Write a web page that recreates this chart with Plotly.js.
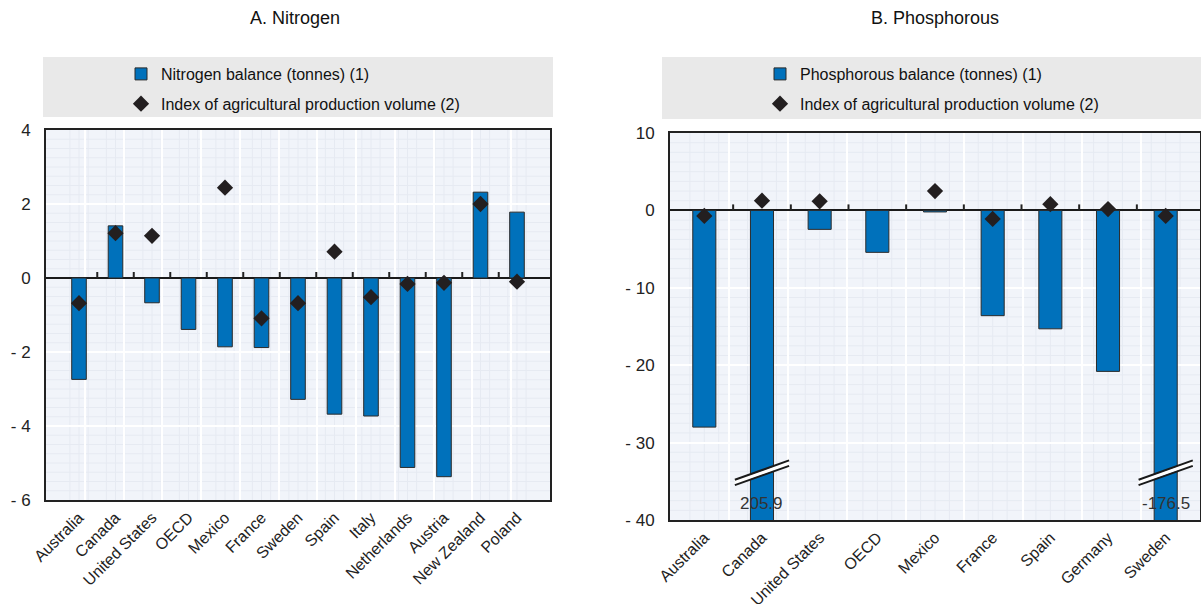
<!DOCTYPE html>
<html>
<head>
<meta charset="utf-8">
<script src="https://cdn.plot.ly/plotly-3.0.1.min.js"></script>
<style>html,body{margin:0;padding:0;background:#fff;}#chart{width:1201px;height:604px;}</style>
</head>
<body>
<div id="chart"></div>
<script>
// ---- Data ----
const nitroCategories = ["Australia","Canada","United States","OECD","Mexico","France","Sweden","Spain","Italy","Netherlands","Austria","New Zealand","Poland"];
const nitroBalance = [-2.74, 1.41, -0.67, -1.39, -1.86, -1.88, -3.28, -3.68, -3.73, -5.12, -5.37, 2.32, 1.78];
const nitroIndex = [-0.68, 1.21, 1.14, null, 2.44, -1.09, -0.68, 0.71, -0.52, -0.16, -0.13, 2.0, -0.1];

const phosCategories = ["Australia","Canada","United States","OECD","Mexico","France","Spain","Germany","Sweden"];
const phosBalance = [-28.0, -205.9, -2.45, -5.42, -0.2, -13.6, -15.3, -20.8, -176.5];
const phosIndex = [-0.72, 1.25, 1.17, null, 2.5, -1.1, 0.8, 0.18, -0.72];

const nitroTickVals = [4, 2, 0, -2, -4, -6];
const nitroTickText = ["4", "2", "0", "- 2", "- 4", "- 6"];
const phosTickVals = [10, 0, -10, -20, -30, -40];
const phosTickText = ["10", "0", "- 10", "- 20", "- 30", "- 40"];

const titles = ["A. Nitrogen", "B. Phosphorous"];
const seriesNames = {
  nitro: "Nitrogen balance (tonnes) (1)",
  phos: "Phosphorous balance (tonnes) (1)",
  index: "Index of agricultural production volume (2)"
};

// ---- Style ----
const FONT = "'Liberation Sans', Arial, sans-serif";
const BAR = "#0071bb";
const DARK = "#231f20";
const BG = "#f1f4fa";
const MINOR = "#e6eaf2";
const LEGBG = "#e9e9e9";

const nitroRange = [-6, 4];
const phosRange = [-40, 10];

function barTrace(cats, vals, name, xa, ya, leg, grp) {
  return {type: "bar", x: cats, y: vals, name: name, xaxis: xa, yaxis: ya, legend: leg, legendgroup: grp,
    width: 0.4, marker: {color: BAR, line: {color: "#2b2b2b", width: 1}}, cliponaxis: true};
}
function idxTrace(cats, vals, xa, ya, leg, grp) {
  return {type: "scatter", mode: "markers", x: cats, y: vals, name: seriesNames.index,
    xaxis: xa, yaxis: ya, legend: leg, legendgroup: grp,
    marker: {symbol: "diamond", size: 12.5, color: DARK}, cliponaxis: false};
}
function dummy(xa, ya) {
  return {type: "scatter", x: [], y: [], xaxis: xa, yaxis: ya, showlegend: false, hoverinfo: "skip"};
}

const traces = [
  barTrace(nitroCategories, nitroBalance, seriesNames.nitro, "x", "y", "legend", "a1"),
  idxTrace(nitroCategories, nitroIndex, "x", "y", "legend", "a2"),
  dummy("x2", "y"),
  barTrace(phosCategories, phosBalance, seriesNames.phos, "x3", "y3", "legend2", "b1"),
  idxTrace(phosCategories, phosIndex, "x3", "y3", "legend2", "b2"),
  dummy("x4", "y3")
];

const domL = [46/1201, 550/1201];
const domR = [670/1201, 1200/1201];
const domLy = [1 - 500/604, 1 - 130/604];
const domRy = [1 - 520/604, 1 - 133/604];

function catAxis(dom, anchor) {
  return {domain: dom, anchor: anchor, type: "category", showgrid: false, zeroline: false,
    ticks: "", tickangle: -45, tickfont: {family: FONT, size: 16, color: "#222"},
    showline: true, linecolor: "#222", linewidth: 2, mirror: true, fixedrange: true};
}
function gridAxis(n, overlay, anchor) {
  return {overlaying: overlay, anchor: anchor, type: "linear", range: [-0.5, n - 0.5],
    tick0: -0.5, dtick: 1, showticklabels: false, ticks: "", zeroline: false,
    showgrid: true, gridcolor: "#ffffff", gridwidth: 2};
}
function valAxis(dom, anchor, range, tv, tt) {
  return {domain: dom, anchor: anchor, range: range, tickmode: "array", tickvals: tv, ticktext: tt,
    tickfont: {family: FONT, size: 17, color: "#222"}, ticks: "", ticklabelstandoff: 10,
    showgrid: true, gridcolor: "#ffffff", gridwidth: 2,
    zeroline: true, zerolinecolor: "#1a1a1a", zerolinewidth: 2,
    showline: true, linecolor: "#222", linewidth: 2, mirror: true, fixedrange: true};
}

const shapes = [];
// legend backgrounds
shapes.push({type: "rect", xref: "paper", yref: "paper", x0: 43/1201, x1: 553/1201, y0: 1 - 117/604, y1: 1 - 57/604,
  fillcolor: LEGBG, line: {width: 0}, layer: "below"});
shapes.push({type: "rect", xref: "paper", yref: "paper", x0: 662/1201, x1: 1201/1201, y0: 1 - 119/604, y1: 1 - 57/604,
  fillcolor: LEGBG, line: {width: 0}, layer: "below"});

// fine background grid (below the white major grid)
function minorGrid(n, xa, ya, range, majorStep, minorStep) {
  for (let j = 1; j < n * 4; j++) {
    if (j % 4 === 0) continue;
    const xv = -0.5 + j * 0.25;
    shapes.push({type: "line", xref: xa, yref: ya + " domain", x0: xv, x1: xv, y0: 0, y1: 1,
      line: {color: MINOR, width: 1}, layer: "below"});
  }
  const steps = Math.round((range[1] - range[0]) / minorStep);
  const per = Math.round(majorStep / minorStep);
  for (let j = 1; j < steps; j++) {
    if (j % per === 0) continue;
    const yv = range[0] + j * minorStep;
    shapes.push({type: "line", xref: xa + " domain", yref: ya, x0: 0, x1: 1, y0: yv, y1: yv,
      line: {color: MINOR, width: 1}, layer: "below"});
  }
}
minorGrid(nitroCategories.length, "x", "y", nitroRange, 2, 0.25);
minorGrid(phosCategories.length, "x3", "y3", phosRange, 10, 1.25);

// tick marks on the zero line at category boundaries
function zeroTicks(n, xa, ya) {
  for (let i = 0; i < n - 1; i++) {
    shapes.push({type: "line", xref: xa, yref: ya, x0: i + 0.5, x1: i + 0.5,
      ysizemode: "pixel", yanchor: 0, y0: 0, y1: 6, line: {color: "#222", width: 2}});
  }
}
zeroTicks(nitroCategories.length, "x", "y");
zeroTicks(phosCategories.length, "x3", "y3");

// axis-break markers for bars beyond the axis minimum
const annotations = [];
phosBalance.forEach((v, i) => {
  if (v < phosRange[0]) {
    const yb = phosRange[0] + 5.2;
    const slope = 2.5;
    shapes.push({type: "line", xref: "x3", yref: "y3", x0: i - 0.47, x1: i + 0.47, y0: yb - 0.35, y1: yb - 0.35 + slope,
      line: {color: "#ffffff", width: 4}});
    [0, 0.7].forEach(off => {
      shapes.push({type: "line", xref: "x3", yref: "y3", x0: i - 0.47, x1: i + 0.47, y0: yb - off, y1: yb - off + slope,
        line: {color: "#1a1a1a", width: 2}});
    });
    const label = (i === 1) ? String(Math.abs(v)) : String(v);
    annotations.push({xref: "x3", yref: "y3", x: phosCategories[i], y: phosRange[0] + 2.1, text: label,
      showarrow: false, font: {family: FONT, size: 17, color: "#333"}});
  }
});

annotations.push({xref: "paper", yref: "paper", x: 295/1201, y: 1 - 18/604, text: titles[0], showarrow: false,
  xanchor: "center", yanchor: "middle", font: {family: FONT, size: 18, color: "#111"}});
annotations.push({xref: "paper", yref: "paper", x: 935/1201, y: 1 - 18/604, text: titles[1], showarrow: false,
  xanchor: "center", yanchor: "middle", font: {family: FONT, size: 18, color: "#111"}});

const legendCommon = {bgcolor: "rgba(0,0,0,0)", borderwidth: 0, orientation: "v", xanchor: "center", yanchor: "top",
  font: {family: FONT, size: 16, color: "#111"}, itemwidth: 30, tracegroupgap: 6, traceorder: "grouped"};

const layout = {
  width: 1201, height: 604, margin: {l: 0, r: 0, t: 0, b: 0},
  paper_bgcolor: "#ffffff", plot_bgcolor: BG, showlegend: true, barmode: "overlay",
  xaxis: catAxis(domL, "y"),
  xaxis2: gridAxis(nitroCategories.length, "x", "y"),
  yaxis: valAxis(domLy, "x", nitroRange, nitroTickVals, nitroTickText),
  xaxis3: catAxis(domR, "y3"),
  xaxis4: gridAxis(phosCategories.length, "x3", "y3"),
  yaxis3: valAxis(domRy, "x3", phosRange, phosTickVals, phosTickText),
  legend: Object.assign({}, legendCommon, {x: 293/1201, y: 1 - 57/604}),
  legend2: Object.assign({}, legendCommon, {x: 932/1201, y: 1 - 57/604}),
  shapes: shapes, annotations: annotations
};

Plotly.newPlot("chart", traces, layout, {displayModeBar: false, staticPlot: true});
</script>
</body>
</html>
